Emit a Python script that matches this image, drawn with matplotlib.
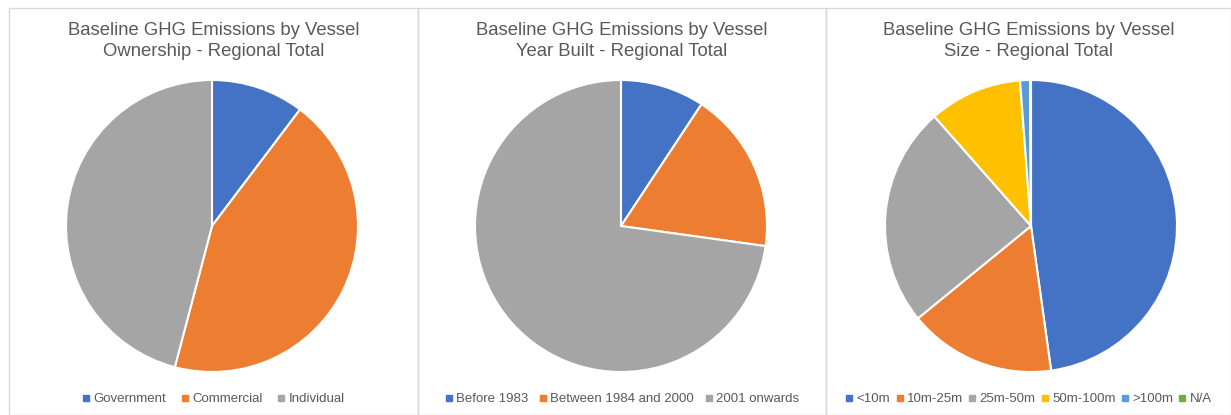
import matplotlib.pyplot as plt
from matplotlib.lines import Line2D
from matplotlib.patches import Rectangle

plt.rcParams['font.family'] = ['Liberation Sans', 'DejaVu Sans']

BLUE = '#4472c4'
ORANGE = '#ed7d31'
GREY = '#a5a5a5'
YELLOW = '#ffc000'
LBLUE = '#5b9bd5'
GREEN = '#70ad47'
TEXT = '#595959'

ownership_labels = ['Government', 'Commercial', 'Individual']
ownership_values = [10.3, 43.8, 45.9]

year_labels = ['Before 1983', 'Between 1984 and 2000', '2001 onwards']
year_values = [9.3, 17.9, 72.8]

size_labels = ['<10m', '10m-25m', '25m-50m', '50m-100m', '>100m', 'N/A']
size_values = [47.8, 16.3, 24.4, 10.3, 1.1, 0.1]

titles = ['Baseline GHG Emissions by Vessel\nOwnership - Regional Total',
          'Baseline GHG Emissions by Vessel\nYear Built - Regional Total',
          'Baseline GHG Emissions by Vessel\nSize - Regional Total']

W, H = 1231, 415
fig = plt.figure(figsize=(W / 100, H / 100), dpi=100)

# panel frames
panels = [(9, 418), (418, 826), (826, 1231)]
for x0, x1 in panels:
    fig.add_artist(Rectangle((x0 / W, 0), (x1 - x0) / W, (H - 8) / H,
                             transform=fig.transFigure, fill=False,
                             edgecolor='#d9d9d9', linewidth=1))

charts = [
    (ownership_labels, ownership_values, [BLUE, ORANGE, GREY], 212, 1.1),
    (year_labels, year_values, [BLUE, ORANGE, GREY], 621, 0.8),
    (size_labels, size_values, [BLUE, ORANGE, GREY, YELLOW, LBLUE, GREEN], 1031, 0.4),
]

r = 146
cy = 226
for i, (labels, values, colors, cx, colsp) in enumerate(charts):
    ax = fig.add_axes([(cx - r) / W, (H - cy - r) / H, 2 * r / W, 2 * r / H])
    ax.pie(values, colors=colors, startangle=90, counterclock=False,
           wedgeprops=dict(edgecolor='white', linewidth=1.5))
    ax.set_aspect('equal')
    ax.set_xlim(-1, 1)
    ax.set_ylim(-1, 1)

    x0, x1 = panels[i]
    mid = (x0 + x1) / 2 / W
    fig.text(mid, (H - 41) / H, titles[i], ha='center', va='center',
             fontsize=13.3, color=TEXT, linespacing=1.3)

    handles = [Line2D([], [], marker='s', linestyle='', markersize=4,
                      markerfacecolor=c, markeredgecolor=c) for c in colors]
    fig.legend(handles, labels, loc='center', bbox_to_anchor=(mid, (H - 399) / H),
               ncol=len(labels), frameon=False, fontsize=9.5, labelcolor=TEXT,
               handletextpad=0.25, columnspacing=colsp, handlelength=0.6)

fig.savefig('out.png', dpi=100)
